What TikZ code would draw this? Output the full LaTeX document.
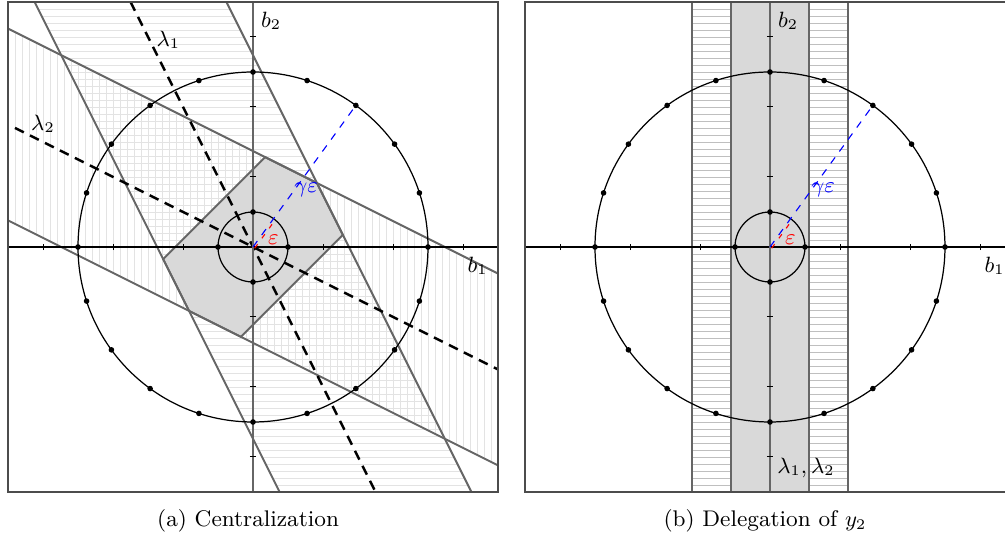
\documentclass[tikz,border=0pt]{standalone}
\usepackage{amsmath}
\newcommand{\basefig}[1]{%
  \draw[xaxis] (-3.5,0) -- (3.5,0);
  \draw[yaxis] (0,-3.5) -- (0,3.5);
  \foreach \t in {-3,-2,-1,1,2,3} {
    \draw[tickline] (\t,-0.045) -- (\t,0.045);
    \draw[tickline] (-0.045,\t) -- (0.045,\t);
  }
  \draw[circ] (0,0) circle (2.5);
  \draw[circ] (0,0) circle (0.5);
  \foreach \a in {0,18,...,342} \fill (\a:2.5) circle (0.04);
  \foreach \a in {0,90,180,270} \fill (\a:0.5) circle (0.04);
  \draw[gammaline] (0,0) -- (54:2.5);
  \draw[epsline, shift={(-36:0.03)}] (0,0) -- (54:0.5);
  \node (#1b2) at (0.26,3.23) {$b_2$};
  \node (#1b1) at (3.21,-0.27) {$b_1$};
  \node[text=blue, inner sep=0pt] (#1ge) at (0.76,0.81) {$\gamma\varepsilon$};
  \node[text=red, inner sep=0pt] (#1e) at (0.29,0.1) {$\varepsilon$};
}
\begin{document}
\begin{tikzpicture}[x=1cm,y=1cm, font=\fontsize{9.2}{11}\selectfont,
  bandline/.style={draw=black!60, line width=0.8pt},
  hatchA/.style={draw=black!11, line width=0.35pt},
  hatchB/.style={draw=black!25, line width=0.35pt},
  lam/.style={dash pattern=on 4pt off 2.8pt, line width=1pt},
  circ/.style={line width=0.5pt},
  tickline/.style={line width=0.4pt},
  xaxis/.style={line width=0.6pt},
  yaxis/.style={draw=black!60, line width=0.8pt},
  frameline/.style={draw=black!70, line width=0.6pt},
  gammaline/.style={blue, dash pattern=on 3pt off 3pt, line width=0.45pt},
  epsline/.style={red, dash pattern=on 2pt off 3pt, line width=0.45pt},
]
\useasboundingbox (-3.6143,-4.1857) rectangle (10.7429,3.5286);

% ---------- left panel ----------
\begin{scope}
  \begin{scope}
    \clip (-3.5,-3.5) rectangle (3.5,3.5);
    \begin{scope}
      \clip (-3.37,4) -- (-0.63,4) -- (3.37,-4) -- (0.63,-4) -- cycle;
      \foreach \i in {-35,...,35} \draw[hatchA] (-3.5,\i/10) -- (3.5,\i/10);
    \end{scope}
    \begin{scope}
      \clip (-4,3.37) -- (4,-0.63) -- (4,-3.37) -- (-4,0.63) -- cycle;
      \foreach \i in {-35,...,35} \draw[hatchA] (\i/10,-3.5) -- (\i/10,3.5);
    \end{scope}
    \filldraw[fill=black!15, bandline] (0.1733,1.2833) -- (0.9133,0.9133) -- (1.2833,0.1733)
      -- (-0.1733,-1.2833) -- (-0.9133,-0.9133) -- (-1.2833,-0.1733) -- cycle;
    \draw[bandline] (-3.37,4) -- (0.63,-4);
    \draw[bandline] (-0.63,4) -- (3.37,-4);
    \draw[bandline] (-4,3.37) -- (4,-0.63);
    \draw[bandline] (-4,0.63) -- (4,-3.37);
    \draw[lam] (-1.75,3.5) -- (1.75,-3.5);
    \draw[lam] (-3.4,1.7) -- (3.5,-1.75);
  \end{scope}
  \basefig{L}
  \node (l1) at (-1.21,2.96) {$\lambda_1$};
  \node (l2) at (-3.0,1.76) {$\lambda_2$};
  \draw[frameline] (-3.5,-3.5) rectangle (3.5,3.5);
  \node (capa) at (-0.07,-3.914) {(a) Centralization};
\end{scope}

% ---------- right panel ----------
\begin{scope}[shift={(7.3857,0)}]
  \begin{scope}
    \clip (-1.114,-3.5) rectangle (-0.557,3.5) (0.557,-3.5) rectangle (1.114,3.5);
    \foreach \i in {-35,...,35} \draw[hatchB] (-1.2,\i/10) -- (1.2,\i/10);
  \end{scope}
  \fill[black!15] (-0.557,-3.5) rectangle (0.557,3.5);
  \foreach \x in {-1.114,-0.557,0.557,1.114} \draw[bandline] (\x,-3.5) -- (\x,3.5);
  \basefig{R}
  \node (l12) at (0.514,-3.157) {$\lambda_1, \lambda_2$};
  \draw[frameline] (-3.5,-3.5) rectangle (3.5,3.5);
  \node (capb) at (-0.07,-3.914) {(b) Delegation of $y_2$};
\end{scope}
\end{tikzpicture}
\end{document}
